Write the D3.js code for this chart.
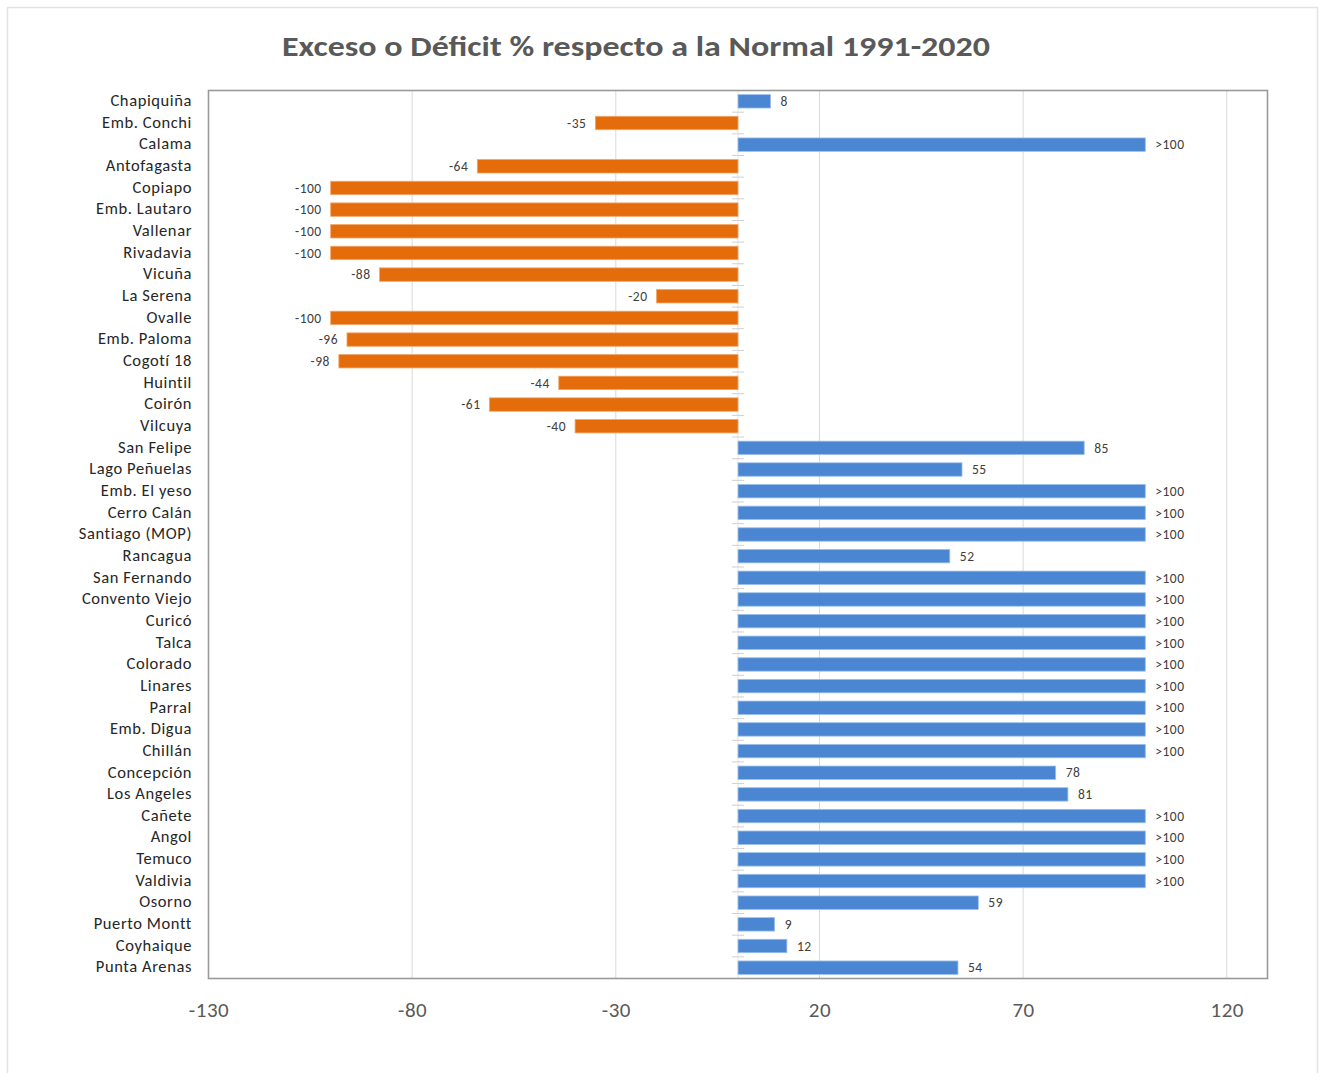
<!DOCTYPE html>
<html>
<head>
<meta charset="utf-8">
<script src="https://cdn.jsdelivr.net/npm/d3@7"></script>
<style>
  html, body { margin: 0; padding: 0; background: #fff; }
  svg { display: block; font-family: Carlito, Calibri, Lato, "Open Sans", sans-serif; }
</style>
</head>
<body>
<svg id="chart" width="1325" height="1073"></svg>
<script>
// Stations, north to south
const stations = [
  "Chapiquiña", "Emb. Conchi", "Calama", "Antofagasta", "Copiapo", "Emb. Lautaro",
  "Vallenar", "Rivadavia", "Vicuña", "La Serena", "Ovalle", "Emb. Paloma",
  "Cogotí 18", "Huintil", "Coirón", "Vilcuya", "San Felipe", "Lago Peñuelas",
  "Emb. El yeso", "Cerro Calán", "Santiago (MOP)", "Rancagua", "San Fernando",
  "Convento Viejo", "Curicó", "Talca", "Colorado", "Linares", "Parral",
  "Emb. Digua", "Chillán", "Concepción", "Los Angeles", "Cañete", "Angol",
  "Temuco", "Valdivia", "Osorno", "Puerto Montt", "Coyhaique", "Punta Arenas"
];

// Excess / deficit (%) relative to the 1991-2020 normal; excesses above 100 are capped at 100
const anomaly = [
  8, -35, 100, -64, -100, -100,
  -100, -100, -88, -20, -100, -96,
  -98, -44, -61, -40, 85, 55,
  100, 100, 100, 52, 100,
  100, 100, 100, 100, 100, 100,
  100, 100, 78, 81, 100, 100,
  100, 100, 59, 9, 12, 54
];

// Stations whose excess exceeds the 100 % cap
const capped = [
  false, false, true, false, false, false,
  false, false, false, false, false, false,
  false, false, false, false, false, false,
  true, true, true, false, true,
  true, true, true, true, true, true,
  true, true, false, false, true, true,
  true, true, false, false, false, false
];

const xTicks = [-130, -80, -30, 20, 70, 120];
const xDomain = [-130, 130];
const title = "Exceso o Déficit %  respecto a la Normal 1991-2020";

const svg = d3.select("#chart");
const margin = { left: 208.5, top: 90.5, right: 1267.5, bottom: 978.5 };

// Outer chart frame
svg.append("rect")
  .attr("x", 7.5).attr("y", 7.5)
  .attr("width", 1310).attr("height", 1080)
  .attr("fill", "#fff").attr("stroke", "#e3e3e3").attr("stroke-width", 1.5);

const x = d3.scaleLinear().domain(xDomain).range([margin.left, margin.right]);
const y = d3.scaleBand().domain(stations).range([margin.top, margin.bottom]).paddingInner(0.38).paddingOuter(0.19);

// Vertical gridlines
svg.append("g")
  .selectAll("line")
  .data(xTicks.slice(1))
  .join("line")
  .attr("x1", d => x(d)).attr("x2", d => x(d))
  .attr("y1", margin.top).attr("y2", margin.bottom)
  .attr("stroke", "#d9d9d9").attr("stroke-width", 1);

// Zero axis with tick marks between categories
const zeroX = x(0);
svg.append("line")
  .attr("x1", zeroX).attr("x2", zeroX)
  .attr("y1", margin.top).attr("y2", margin.bottom)
  .attr("stroke", "#e6e6e6").attr("stroke-width", 1);
const step = y.step();
svg.append("g")
  .selectAll("line")
  .data(d3.range(stations.length + 1))
  .join("line")
  .attr("x1", zeroX - 6).attr("x2", zeroX + 6)
  .attr("y1", i => margin.top + i * step).attr("y2", i => margin.top + i * step)
  .attr("stroke", "#d0d0d0").attr("stroke-width", 1);

const rows = stations.map((s, i) => ({ name: s, v: anomaly[i], cap: capped[i] }));

// Bars
svg.append("g")
  .selectAll("rect")
  .data(rows)
  .join("rect")
  .attr("x", d => x(Math.min(0, d.v)))
  .attr("width", d => Math.abs(x(d.v) - x(0)))
  .attr("y", d => y(d.name))
  .attr("height", y.bandwidth())
  .attr("fill", d => d.v < 0 ? "#e46c0a" : "#4a86d2")
  .attr("stroke", d => d.v < 0 ? "#f2a66a" : "#9cc0ea")
  .attr("stroke-width", 0.8);

// Value labels
svg.append("g")
  .selectAll("text")
  .data(rows)
  .join("text")
  .attr("x", d => d.v < 0 ? x(d.v) - 9 : x(d.v) + 10)
  .attr("y", d => y(d.name) + y.bandwidth() / 2)
  .attr("dy", "0.35em")
  .attr("text-anchor", d => d.v < 0 ? "end" : "start")
  .attr("font-size", 13.5)
  .attr("letter-spacing", 0.5)
  .attr("fill", "#404040")
  .text(d => d.cap ? ">" + d.v : d.v);

// Category labels
svg.append("g")
  .selectAll("text")
  .data(rows)
  .join("text")
  .attr("x", 192)
  .attr("y", d => y(d.name) + y.bandwidth() / 2 - 1)
  .attr("dy", "0.35em")
  .attr("text-anchor", "end")
  .attr("font-size", 16.5)
  .attr("letter-spacing", 0.6)
  .attr("fill", "#262626")
  .text(d => d.name);

// Plot border
svg.append("rect")
  .attr("x", margin.left).attr("y", margin.top)
  .attr("width", margin.right - margin.left)
  .attr("height", margin.bottom - margin.top)
  .attr("fill", "none").attr("stroke", "#9a9a9a").attr("stroke-width", 1.6);

// X axis tick labels
const xAxis = d3.axisBottom(x).tickValues(xTicks).tickSize(0).tickPadding(24).tickFormat(d => String(d));
const gx = svg.append("g")
  .attr("transform", `translate(0,${margin.bottom})`)
  .call(xAxis);
gx.select(".domain").remove();
gx.selectAll("text")
  .attr("font-size", 21)
  .attr("letter-spacing", 0.5)
  .attr("fill", "#595959")
  .attr("font-family", "Carlito, Calibri, Lato, 'Open Sans', sans-serif");

// Title
svg.append("text")
  .attr("x", 636).attr("y", 56)
  .attr("text-anchor", "middle")
  .attr("font-size", 29)
  .attr("font-weight", "bold")
  .attr("fill", "#595959")
  .attr("textLength", 708)
  .attr("lengthAdjust", "spacingAndGlyphs")
  .text(title);
</script>
</body>
</html>
